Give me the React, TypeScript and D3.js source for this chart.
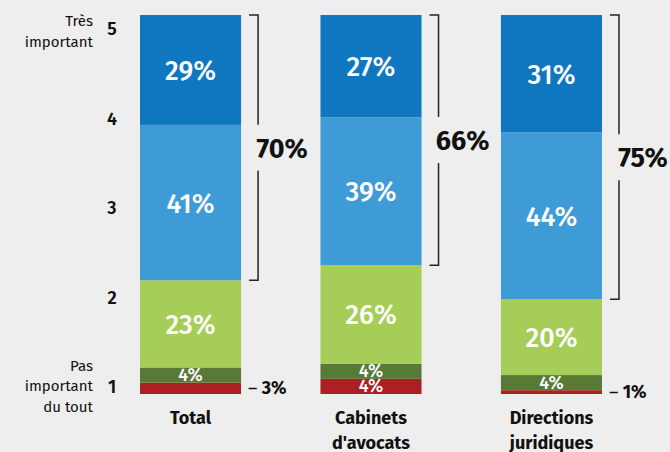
import React from "react";
import * as d3 from "d3";

const categories = ["Total", "Cabinets d'avocats", "Directions juridiques"];
const categoryLines = [["Total"], ["Cabinets", "d'avocats"], ["Directions", "juridiques"]];
const levels = ["1", "2", "3", "4", "5"];
const red = [3, 4, 1];
const darkGreen = [4, 4, 4];
const lightGreen = [23, 26, 20];
const lightBlue = [41, 39, 44];
const darkBlue = [29, 27, 31];
const topTwo = [70, 66, 75];
const seriesColors = ["#ac1f25", "#577a37", "#a6cd57", "#3f9bd5", "#0f77c0"];

const W = 670, H = 452;
const FONT = "'Fira Sans', 'Noto Sans', 'Open Sans', sans-serif";

export default function App() {
  const series = [red, darkGreen, lightGreen, lightBlue, darkBlue];
  const x = d3.scaleBand<string>().domain(categories).range([140, 602]).paddingInner(0.44).paddingOuter(0);
  const y = d3.scaleLinear().domain([0, 100]).range([394, 15]);
  const yl = d3.scaleLinear().domain([1, 5]).range([386, 28]);
  const bw = x.bandwidth();

  const stacks = categories.map((_, i) => {
    let acc = 0;
    return series.map((s, k) => {
      const v0 = acc;
      acc += s[i];
      return { k, v: s[i], v0, v1: acc };
    });
  });

  return (
    <svg width={W} height={H} style={{ position: "absolute", left: 0, top: 0, background: "#eeeeee", fontFamily: FONT }}>
      <rect width={W} height={H} fill="#eeeeee" />
      {levels.map((l, i) => (
        <text key={l} x={112} y={yl(i + 1) + 7} textAnchor="middle" fontSize={18} fontWeight={600} fill="#111">{l}</text>
      ))}
      <text x={93} y={26} textAnchor="end" fontSize={15} fill="#111">Très</text>
      <text x={93} y={47} textAnchor="end" fontSize={15} fill="#111">important</text>
      <text x={93} y={371} textAnchor="end" fontSize={15} fill="#111">Pas</text>
      <text x={93} y={391} textAnchor="end" fontSize={15} fill="#111">important</text>
      <text x={93} y={412} textAnchor="end" fontSize={15} fill="#111">du tout</text>

      {categories.map((c, i) => {
        const x0 = x(c)!;
        const cx = x0 + bw / 2;
        const bracketTop = y(100);
        const bracketBot = y(stacks[i][2].v1);
        const bx = x0 + bw + 17;
        const mid = (bracketTop + bracketBot) / 2;
        return (
          <g key={c}>
            {stacks[i].map((s) => (
              <rect key={s.k} x={x0} y={y(s.v1)} width={bw} height={y(s.v0) - y(s.v1)} fill={seriesColors[s.k]} />
            ))}
            {stacks[i].map((s) => {
              if (s.v < 4) return null;
              const big = s.v >= 10;
              const cy = (y(s.v0) + y(s.v1)) / 2;
              return (
                <text key={"t" + s.k} x={cx} y={cy + (big ? 10 : 6)} textAnchor="middle" fill="#fff"
                  fontSize={big ? 27 : 18} fontWeight={500}>{s.v}%</text>
              );
            })}
            {i !== 1 && (
              <text x={x0 + bw + 7} y={y(stacks[i][0].v1 / 2) + 6} fontSize={18} fontWeight={700} fill="#111">
                <tspan fontWeight={400}>–</tspan> {red[i]}%
              </text>
            )}
            <path d={`M${bx - 9},${bracketTop}H${bx}V${mid - 23}M${bx},${mid + 23}V${bracketBot}H${bx - 9}`}
              fill="none" stroke="#222" strokeWidth={1.5} />
            <text x={bx + 24} y={mid + 10} textAnchor="middle" fontSize={27} fontWeight={700} fill="#111">{topTwo[i]}%</text>
            {categoryLines[i].map((t, j) => (
              <text key={j} x={cx} y={424 + j * 25} textAnchor="middle" fontSize={18} fontWeight={700} fill="#111">{t}</text>
            ))}
          </g>
        );
      })}
    </svg>
  );
}
